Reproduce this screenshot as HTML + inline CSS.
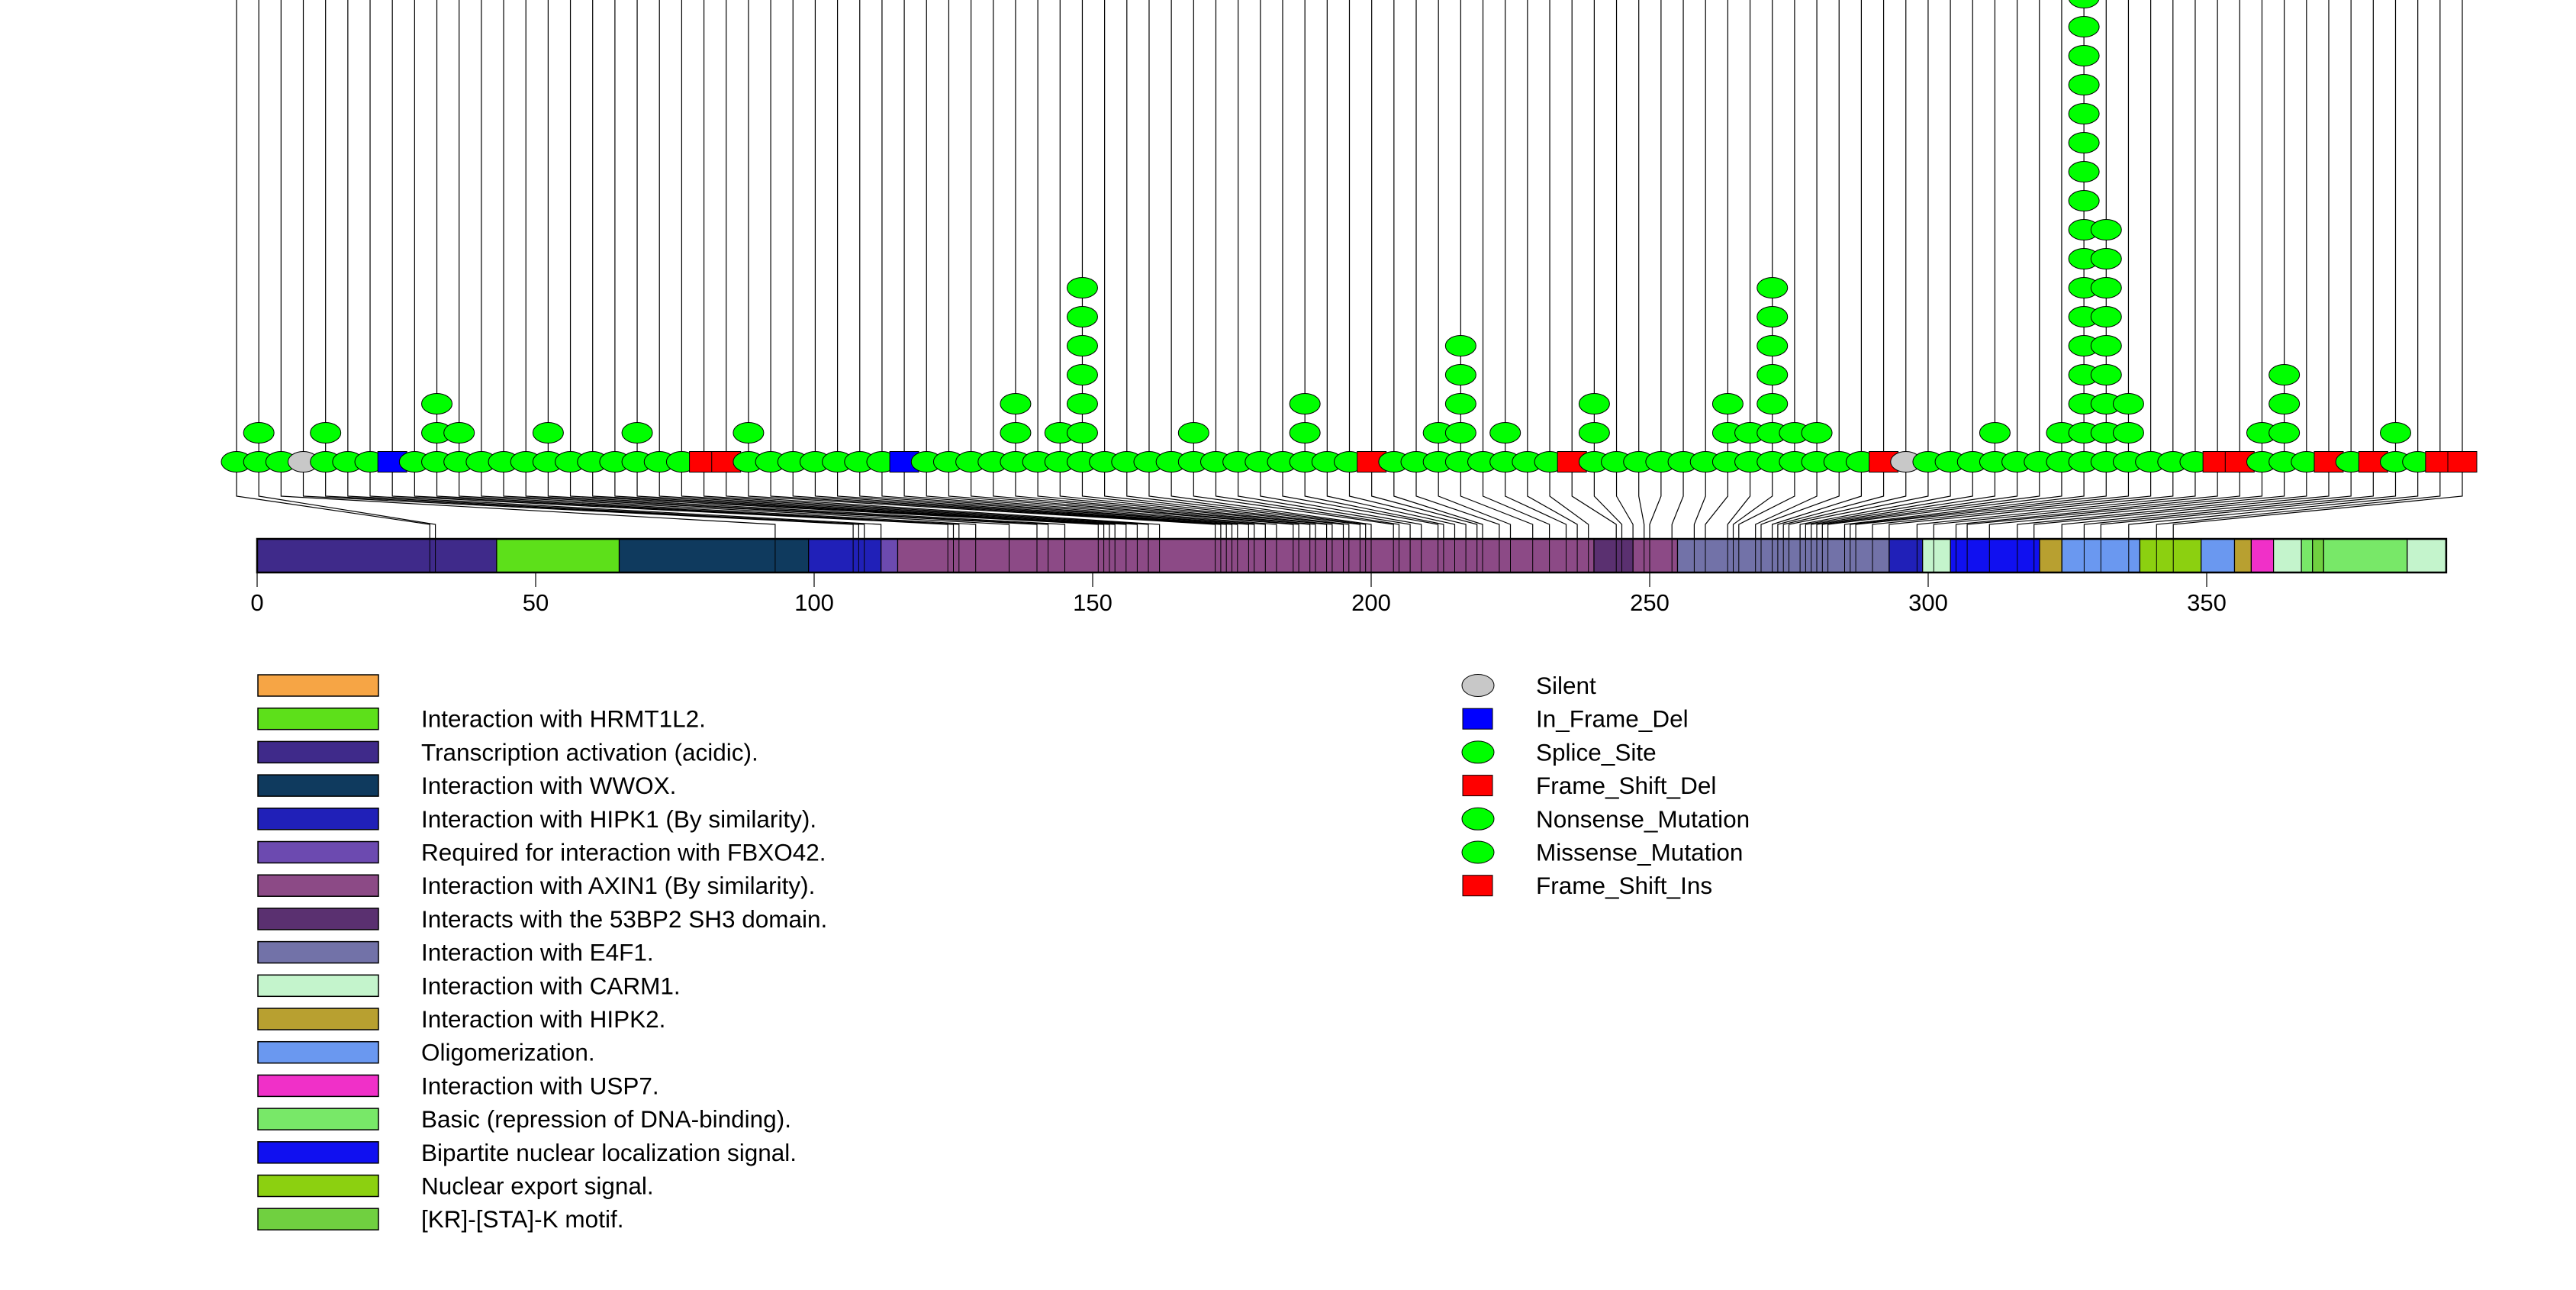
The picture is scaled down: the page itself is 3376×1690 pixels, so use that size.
<!DOCTYPE html>
<html><head><meta charset="utf-8"><title>TP53 mutation lollipop plot</title>
<style>html,body{margin:0;padding:0;background:#fff}svg{display:block}text{font-family:"Liberation Sans",sans-serif;fill:#000}</style>
</head><body>
<svg id="chart" xmlns="http://www.w3.org/2000/svg" width="3376" height="1690" viewBox="0 0 3376 1690">
<g id="lines"></g>
<g id="domains"></g>
<g id="barlines"></g>
<g id="axis"></g>
<g id="marks"></g>
<g id="legend1"></g>
<g id="legend2"></g>
</svg>
<script>
// ---- data ----
const positions = [31,32,93,107,108,109,112,124,125,126,129,135,140,142,145,151,152,153,154,156,158,160,162,172,173,174,175,176,178,179,181,183,186,187,189,190,192,193,195,196,198,199,200,204,205,207,209,212,213,215,217,219,220,223,225,229,232,235,237,239,244,245,247,249,250,254,258,260,264,265,266,269,270,272,273,274,275,277,278,279,280,281,282,285,286,287,290,293,298,301,305,307,311,316,319,324,328,331,336,341,344];
const types = ["M","M","M","S","M","M","M","I","M","M","M","M","M","M","M","M","M","M","M","M","M","F","F","M","M","M","M","M","M","M","I","M","M","M","M","M","M","M","M","M","M","M","M","M","M","M","M","M","M","M","M","F","M","M","M","M","M","M","M","M","F","M","M","M","M","M","M","M","M","M","M","M","M","M","F","S","M","M","M","M","M","M","M","M","M","M","M","M","M","F","F","M","M","M","F","M","F","M","M","F","F"];
const counts = [1,2,1,1,2,1,1,1,1,3,2,1,1,1,2,1,1,1,2,1,1,1,1,2,1,1,1,1,1,1,1,1,1,1,1,3,1,2,7,1,1,1,1,2,1,1,1,1,3,1,1,1,1,1,2,5,1,2,1,1,1,3,1,1,1,1,1,3,2,7,2,2,1,1,1,1,1,1,1,2,1,1,2,17,9,3,1,1,1,1,1,2,4,1,1,1,1,2,1,1,1];
const domainStarts = [0,43,65,99,112,115,240,247,255,293,299,304,320,324,338,349,355,358,362,367,369,371,386];
const domainEnds   = [43,65,99,112,115,240,247,255,293,299,304,320,324,338,349,355,358,362,367,369,371,386,393];
const domainKeys   = ["tad","hrmt","wwox","hipk1","fbxo","axin","bp2","axin","e4f1","hipk1","carm","nls","hipk2","oligo","nes","oligo","hipk2","usp7","carm","basic","kr","basic","carm"];
const tickValues = [0,50,100,150,200,250,300,350];
const legendLabels = ["","Interaction with HRMT1L2.","Transcription activation (acidic).","Interaction with WWOX.","Interaction with HIPK1 (By similarity).","Required for interaction with FBXO42.","Interaction with AXIN1 (By similarity).","Interacts with the 53BP2 SH3 domain.","Interaction with E4F1.","Interaction with CARM1.","Interaction with HIPK2.","Oligomerization.","Interaction with USP7.","Basic (repression of DNA-binding).","Bipartite nuclear localization signal.","Nuclear export signal.","[KR]-[STA]-K motif."];
const legendKeys = ["orange","hrmt","tad","wwox","hipk1","fbxo","axin","bp2","e4f1","carm","hipk2","oligo","usp7","basic","nls","nes","kr"];
const typeLabels = ["Silent","In_Frame_Del","Splice_Site","Frame_Shift_Del","Nonsense_Mutation","Missense_Mutation","Frame_Shift_Ins"];
const typeShapes = ["S","I","M","F","M","M","F"];

// ---- style ----
const colors = {orange:"#F6A545",hrmt:"#5DE01A",tad:"#3F2A8A",wwox:"#0F3A5E",hipk1:"#2020B8",fbxo:"#6C4AB0",axin:"#8C4A86",bp2:"#5A3070",e4f1:"#7272A8",carm:"#C4F4CC",hipk2:"#B8A030",oligo:"#6A98F0",usp7:"#F030C8",basic:"#78E868",nls:"#1010F0",nes:"#8CD010",kr:"#70D040"};
const typeFill = {M:"#00FF00",S:"#C8C8C8",I:"#0000FF",F:"#FF0000"};
const NS="http://www.w3.org/2000/svg";
const ax = aa => 337 + aa*7.3;
const colX = k => 310 + 29.17*k;
const rowY = n => 605 - 38*n;
const BT=706, BB=750;
function mk(tag, attrs, parent){const e=document.createElementNS(NS,tag);for(const k in attrs)e.setAttribute(k,attrs[k]);parent.appendChild(e);return e;}
const G = id => document.getElementById(id);

// connectors
positions.forEach((p,k)=>{
  const x=colX(k), tx=ax(p);
  const pl=mk("polyline",{points:`${x},0 ${x},650 ${tx},687 ${tx},${BB}`,fill:"none",stroke:"#000","stroke-width":1.2},G("lines"));
  
  
});
// domains
domainStarts.forEach((s,i)=>{
  const r=mk("rect",{x:ax(s),y:BT,width:ax(domainEnds[i])-ax(s),height:BB-BT,fill:colors[domainKeys[i]],stroke:"#000","stroke-width":1.2},G("domains"));
  
  
});
positions.forEach((p)=>{
  const l=mk("line",{x1:ax(p),y1:BT,x2:ax(p),y2:BB,stroke:"#000","stroke-width":1},G("barlines"));
  
  
});
const outline=mk("rect",{x:ax(0),y:BT,width:ax(393)-ax(0),height:BB-BT,fill:"none",stroke:"#000","stroke-width":2.5},G("domains"));


// axis
tickValues.forEach(v=>{
  const t=mk("line",{x1:ax(v),y1:BB,x2:ax(v),y2:769,stroke:"#000","stroke-width":1.2},G("axis"));
  
  
  const tx=mk("text",{x:ax(v),y:800,"font-size":31,"text-anchor":"middle"},G("axis"));
  tx.textContent=v;
  
  
});
// markers
function shape(type,cx,cy,parent){
  let e;
  if(type==="M"||type==="S") e=mk("ellipse",{cx:cx,cy:cy,rx:20,ry:13.5,fill:typeFill[type],stroke:"#000","stroke-width":1},parent);
  else e=mk("rect",{x:cx-19,y:cy-13.5,width:38,height:27,fill:typeFill[type],stroke:"#000","stroke-width":1},parent);
  return e;
}
positions.forEach((p,k)=>{
  for(let n=counts[k]-1;n>=0;n--){
    const t = n===0 ? types[k] : "M";
    const e=shape(t,colX(k),rowY(n),G("marks"));
    
    
  }
});
// legends
legendKeys.forEach((key,i)=>{
  const y=898+43.7*i;
  const r=mk("rect",{x:338,y:y-14,width:158,height:28,fill:colors[key],stroke:"#000","stroke-width":1.5},G("legend1"));
  
  
  const t=mk("text",{x:552,y:y+11,"font-size":31.5},G("legend1"));
  t.textContent=legendLabels[i];
  
  
});
typeLabels.forEach((lab,i)=>{
  const y=898+43.7*i;
  const s=typeShapes[i];
  let e;
  if(s==="M"||s==="S") e=mk("ellipse",{cx:1937,cy:y,rx:21,ry:14.5,fill:typeFill[s],stroke:"#000","stroke-width":1},G("legend2"));
  else e=mk("rect",{x:1917,y:y-13.5,width:39,height:27,fill:typeFill[s],stroke:"#000","stroke-width":1},G("legend2"));
  
  
  const t=mk("text",{x:2013,y:y+11,"font-size":31.5},G("legend2"));
  t.textContent=lab;
  
  
});
</script>
</body></html>
